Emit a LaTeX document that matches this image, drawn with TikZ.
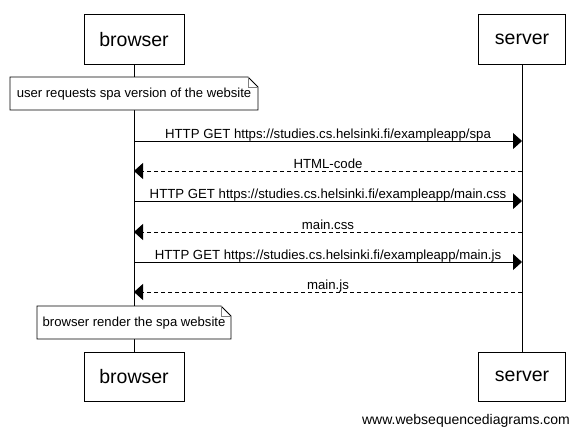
\documentclass[tikz,border=0pt]{standalone}
\usepackage{fontspec}
\setmainfont{Liberation Sans}
\usetikzlibrary{arrows.meta}
\begin{document}
\begin{tikzpicture}[x=1pt,y=-1pt,
  actor/.style={draw=black,line width=1pt,fill=white,minimum width=#1,minimum height=49pt,inner sep=0pt,font=\fontsize{19.5}{22}\selectfont},
  msg/.style={-{Triangle[length=9pt,width=16pt]},line width=0.8pt},
  reply/.style={msg,dash pattern=on 4pt off 3pt},
  lbl/.style={anchor=base,inner sep=0pt,font=\fontsize{13.2}{15}\selectfont},
  notetxt/.style={inner sep=0pt,font=\fontsize{13.1}{15}\selectfont},
  life/.style={line width=0.9pt}]
\useasboundingbox (0,0) rectangle (580,436);
% actors
\node[actor=100pt] (bt) at (134,39.5) {browser};
\node[actor=87pt] (st) at (522,39.5) {server};
\node[actor=100pt] (bb) at (134,376.5) {browser};
\node[actor=87pt] (sb) at (522,376.5) {server};
% lifelines
\draw[life] (bt.south) -- (bb.north);
\draw[life] (st.south) -- (sb.north);
% note 1
\filldraw[fill=white,draw=black,line width=0.8pt] (10,77) -- (248,77) -- (258,87) -- (258,110) -- (10,110) -- cycle;
\draw[gray,line width=0.6pt] (248,77) -- (248,87) -- (258,87);
\node[notetxt] (n1) at (134,94) {user requests spa version of the website};
% note 2
\filldraw[fill=white,draw=black,line width=0.8pt] (37,306) -- (221,306) -- (231,316) -- (231,339) -- (37,339) -- cycle;
\draw[gray,line width=0.6pt] (221,306) -- (221,316) -- (231,316);
\node[notetxt] (n2) at (134,323.5) {browser render the spa website};
% messages
\coordinate (b1) at (134,141); \coordinate (s1) at (522,141);
\coordinate (b2) at (134,171); \coordinate (s2) at (522,171);
\coordinate (b3) at (134,201); \coordinate (s3) at (522,201);
\coordinate (b4) at (134,232); \coordinate (s4) at (522,232);
\coordinate (b5) at (134,262); \coordinate (s5) at (522,262);
\coordinate (b6) at (134,292); \coordinate (s6) at (522,292);
\draw[msg] (b1) -- (s1);
\node[lbl] (l1) at (328,138) {HTTP GET https://studies.cs.helsinki.fi/exampleapp/spa};
\draw[reply] (s2) -- (b2);
\node[lbl] (l2) at (328,168) {HTML-code};
\draw[msg] (b3) -- (s3);
\node[lbl] (l3) at (328,198) {HTTP GET https://studies.cs.helsinki.fi/exampleapp/main.css};
\draw[reply] (s4) -- (b4);
\node[lbl] (l4) at (328,229) {main.css};
\draw[msg] (b5) -- (s5);
\node[lbl] (l5) at (328,259) {HTTP GET https://studies.cs.helsinki.fi/exampleapp/main.js};
\draw[reply] (s6) -- (b6);
\node[lbl] (l6) at (328,289) {main.js};
% footer
\node[inner sep=0pt,font=\fontsize{14}{16}\selectfont] (ft) at (466,421) {www.websequencediagrams.com};
\end{tikzpicture}
\end{document}
